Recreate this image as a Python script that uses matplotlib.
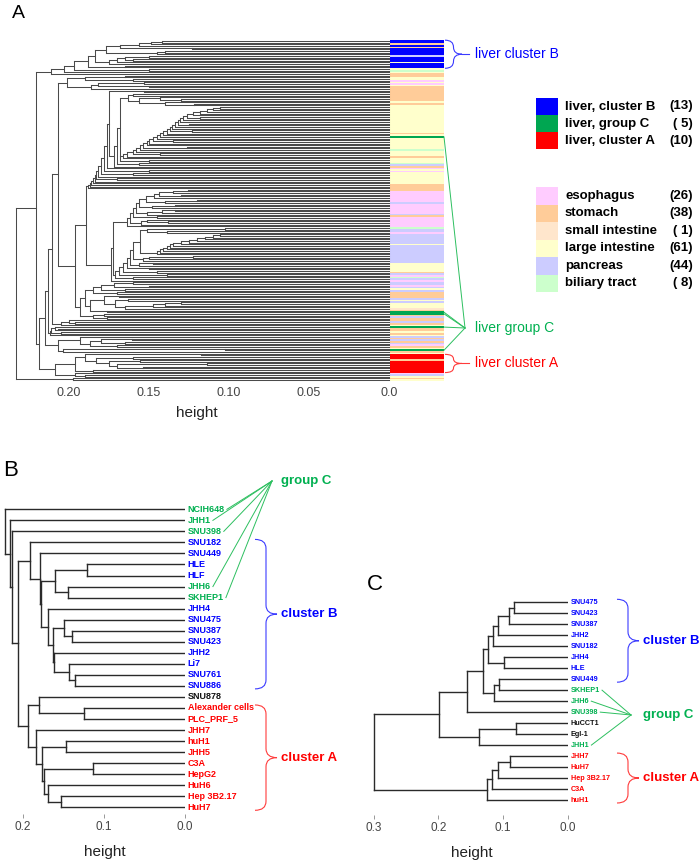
import numpy as np
import matplotlib
matplotlib.use('Agg')
import matplotlib.pyplot as plt
from matplotlib.collections import LineCollection
from matplotlib.path import Path
from matplotlib.patches import PathPatch, Rectangle

plt.rcParams['font.family'] = ['Liberation Sans', 'DejaVu Sans']

W, H = 700, 864

# ---------------- panel A: 206 cell lines ----------------
# merge height between neighbouring leaves (leaf i / leaf i+1), top to bottom
merge_heights_a = [
    0.142, 0.149, 0.156, 0.168, 0.123, 0.177, 0.140, 0.145, 0.184, 0.150,
    0.165, 0.160, 0.170, 0.175, 0.188, 0.165, 0.197, 0.150, 0.203, 0.211,
    0.2206, 0.165, 0.190, 0.160, 0.2015, 0.153, 0.182, 0.150, 0.186, 0.2067,
    0.153, 0.175, 0.160, 0.163, 0.143, 0.130, 0.156, 0.140, 0.122, 0.168,
    0.1056, 0.1098, 0.114, 0.1181, 0.1223, 0.1265, 0.118, 0.129, 0.1306, 0.132,
    0.125, 0.134, 0.1355, 0.137, 0.123, 0.139, 0.141, 0.1431, 0.145, 0.1473,
    0.135, 0.150, 0.1515, 0.1535, 0.1265, 0.1556, 0.158, 0.160, 0.143, 0.164,
    0.166, 0.168, 0.150, 0.170, 0.156, 0.172, 0.176, 0.178, 0.150, 0.180,
    0.160, 0.182, 0.183, 0.170, 0.184, 0.185, 0.186, 0.187, 0.188, 0.1894,
    0.1255, 0.135, 0.144, 0.130, 0.147, 0.152, 0.120, 0.140, 0.156, 0.134,
    0.148, 0.158, 0.1335, 0.142, 0.151, 0.160, 0.145, 0.162, 0.1515, 0.138,
    0.155, 0.164, 0.1722, 0.1025, 0.1515, 0.139, 0.1556, 0.1056, 0.110, 0.115,
    0.120, 0.125, 0.130, 0.1348, 0.137, 0.139, 0.141, 0.1431, 0.145, 0.160,
    0.1223, 0.150, 0.154, 0.162, 0.1473, 0.156, 0.164, 0.150, 0.166, 0.145,
    0.169, 0.139, 0.171, 0.160, 0.174, 0.1963, 0.160, 0.172, 0.150, 0.180,
    0.165, 0.185, 0.170, 0.190, 0.169, 0.178, 0.1629, 0.171, 0.130, 0.140,
    0.1473, 0.165, 0.187, 0.176, 0.193, 0.178, 0.185, 0.1765, 0.2104, 0.200,
    0.196, 0.205, 0.2129, 0.209, 0.207, 0.211, 0.205, 0.212, 0.215, 0.1931,
    0.1604, 0.180, 0.165, 0.187, 0.170, 0.2067, 0.1025, 0.204, 0.2185, 0.1177,
    0.190, 0.160, 0.183, 0.1556, 0.175, 0.114, 0.170, 0.1535, 0.1963, 0.185,
    0.2088, 0.196, 0.190, 0.2331, 0.1975,
]

# tissue of each leaf: B/C/A liver groups, E esophagus, S stomach,
# I small intestine, L large intestine, P pancreas, G biliary tract
strip_a = ''.join([
    'BBSBSBBBBPBBBLBBBL', 'GLSSLLELELS', 'SSSSSSSS', 'LS' + 'L' * 17 + 'SL',
    'C', 'LLLLLLL', 'G', 'LLLSLLLG', 'PSELE', 'LLLLLLL', 'SSSS',
    'EEEEEEEPEEEEEE', 'PSE', 'EEEEE', 'G', 'PPE', 'PPPPPPLPPPPPPPPPPP',
    'LLLLL', 'S', 'PEGPEPPEPLP', 'SSSS', 'PLP', 'LLL', 'IS', 'CC', 'SPSSPSL',
    'C', 'SSLSL', 'PSPSPESL', 'C', 'SL', 'AAASAAAAAAA', 'EPLSL',
])

tissue_color = {'B': '#0000ff', 'C': '#00a651', 'A': '#ff0000',
                'E': '#ffccff', 'S': '#ffcc99', 'I': '#ffe6cc',
                'L': '#ffffcc', 'P': '#ccccff', 'G': '#ccffcc'}

legend_liver = ['liver, cluster B', 'liver, group C', 'liver, cluster A']
legend_liver_n = ['(13)', '( 5)', '(10)']
legend_liver_code = ['B', 'C', 'A']
legend_tissue = ['esophagus', 'stomach', 'small intestine',
                 'large intestine', 'pancreas', 'biliary tract']
legend_tissue_n = ['(26)', '(38)', '( 1)', '(61)', '(44)', '( 8)']
legend_tissue_code = ['E', 'S', 'I', 'L', 'P', 'G']

# ---------------- panel B ----------------
leaves_b = ['NCIH648', 'JHH1', 'SNU398', 'SNU182', 'SNU449', 'HLE', 'HLF',
            'JHH6', 'SKHEP1', 'JHH4', 'SNU475', 'SNU387', 'SNU423', 'JHH2',
            'Li7', 'SNU761', 'SNU886', 'SNU878', 'Alexander cells',
            'PLC_PRF_5', 'JHH7', 'huH1', 'JHH5', 'C3A', 'HepG2', 'HuH6',
            'Hep 3B2.17', 'HuH7']
group_b = ['C', 'C', 'C', 'B', 'B', 'B', 'B', 'C', 'C', 'B', 'B', 'B', 'B',
           'B', 'B', 'B', 'B', 'N', 'A', 'A', 'A', 'A', 'A', 'A', 'A', 'A',
           'A', 'A']
merge_heights_b = [0.222, 0.216, 0.2132, 0.1914, 0.179, 0.1206, 0.1605,
                   0.1448, 0.1778, 0.1695, 0.150, 0.140, 0.1634, 0.1620,
                   0.1428, 0.136, 0.2058, 0.1798, 0.1243, 0.1934, 0.1843,
                   0.1473, 0.177, 0.114, 0.174, 0.1687, 0.1535]

# ---------------- panel C ----------------
leaves_c = ['SNU475', 'SNU423', 'SNU387', 'JHH2', 'SNU182', 'JHH4', 'HLE',
            'SNU449', 'SKHEP1', 'JHH6', 'SNU398', 'HuCCT1', 'Egl-1', 'JHH1',
            'JHH7', 'HuH7', 'Hep 3B2.17', 'C3A', 'huH1']
group_c = ['B', 'B', 'B', 'B', 'B', 'B', 'B', 'B', 'C', 'C', 'C', 'N', 'N',
           'C', 'A', 'A', 'A', 'A', 'A']
merge_heights_c = [0.0833, 0.0905, 0.1075, 0.1152, 0.123, 0.0988, 0.1307,
                   0.106, 0.1142, 0.1554, 0.1986, 0.0802, 0.1369, 0.2994,
                   0.0895, 0.1075, 0.1178, 0.1245]

label_color = {'B': '#0000ff', 'C': '#00b050', 'A': '#ff0000', 'N': '#111111'}
brace_color = {'B': '#3b3bff', 'C': '#2cbf5f', 'A': '#ff3b3b'}


def dendro(ax, gaps, lw, color):
    segs = []

    def node(lo, hi):
        if lo == hi:
            return lo, 0.0
        k = lo + int(np.argmax(gaps[lo:hi]))
        h = gaps[k]
        pl, hl = node(lo, k)
        pr, hr = node(k + 1, hi)
        segs.append([(hl, pl), (h, pl)])
        segs.append([(hr, pr), (h, pr)])
        segs.append([(h, pl), (h, pr)])
        return (pl + pr) / 2, h

    node(0, len(gaps))
    ax.add_collection(LineCollection(segs, colors=color, linewidths=lw,
                                     capstyle='projecting'))


fig = plt.figure(figsize=(7, 8.64), dpi=100)


def px_axes(x0, y0, x1, y1):
    return fig.add_axes([x0 / W, 1 - y1 / H, (x1 - x0) / W, (y1 - y0) / H])


def clean(ax):
    for s in ax.spines.values():
        s.set_visible(False)
    ax.set_yticks([])
    ax.patch.set_alpha(0)


# panel A axes: leaf 0 at y=41, last leaf at y=380, height 0 at x=389
axA = px_axes(10, 38, 444, 383)
pitch_a = 339 / (len(merge_heights_a))
axA.set_xlim((389 - 10) / 1600, (389 - 444) / 1600)
axA.set_ylim((383 - 41) / pitch_a, (38 - 41) / pitch_a)
dendro(axA, merge_heights_a, 0.75, '#4a4a4a')
axA.barh(range(len(strip_a)), -0.0338, left=-0.0008, height=1.0,
         color=[tissue_color[c] for c in strip_a], edgecolor='none', linewidth=0)
axA.set_xticks([0.2, 0.15, 0.1, 0.05, 0.0])
axA.set_xticklabels(['0.20', '0.15', '0.10', '0.05', '0.0'])
axA.tick_params(axis='x', length=0, pad=3, labelsize=9, labelcolor='#444444')
clean(axA)

# panel B axes
axB = px_axes(3, 503, 185, 814)
pitch_b = (807.3 - 509.3) / (len(leaves_b) - 1)
axB.set_xlim((185 - 3) / 810, 0)
axB.set_ylim((814 - 509.3) / pitch_b, (503 - 509.3) / pitch_b)
dendro(axB, merge_heights_b, 1.0, '#2a2a2a')
axB.set_xticks([0.2, 0.1, 0.0])
axB.tick_params(axis='x', length=3, width=0.6, color='#888888', pad=2,
                labelsize=8.5, labelcolor='#444444')
clean(axB)

# panel C axes
axC = px_axes(370, 596, 568, 815)
pitch_c = (800 - 602.3) / (len(leaves_c) - 1)
axC.set_xlim((568 - 370) / 648, 0)
axC.set_ylim((815 - 602.3) / pitch_c, (596 - 602.3) / pitch_c)
dendro(axC, merge_heights_c, 1.0, '#2a2a2a')
axC.set_xticks([0.3, 0.2, 0.1, 0.0])
axC.tick_params(axis='x', length=3, width=0.6, color='#888888', pad=2,
                labelsize=8.5, labelcolor='#444444')
clean(axC)


def leaf_labels(ax, names, groups, size):
    out = []
    for i, (name, g) in enumerate(zip(names, groups)):
        out.append(ax.annotate(name, (0, i), xytext=(2, 0), textcoords='offset points',
                               va='center', ha='left', fontsize=size, fontweight='bold',
                               color=label_color[g], annotation_clip=False))
    return out


texts_b = leaf_labels(axB, leaves_b, group_b, 6.5)
texts_c = leaf_labels(axC, leaves_c, group_c, 5.2)

# overlay in pixel coordinates (origin top-left)
ov = fig.add_axes([0, 0, 1, 1], zorder=10)
ov.set_xlim(0, W)
ov.set_ylim(H, 0)
ov.axis('off')
ov.patch.set_alpha(0)


def leaf_px(ax, i):
    x, y = ax.transData.transform((0, i))
    return x, H - y


def brace(y0, y1, x0, w, color, tail=0):
    ym = (y0 + y1) / 2
    xv = x0 + w / 2
    r = min(9, (y1 - y0) / 4)
    verts = [(x0, y0), (xv, y0), (xv, y0 + r), (xv, ym - r), (xv, ym), (x0 + w, ym),
             (xv, ym), (xv, ym + r), (xv, y1 - r), (xv, y1), (x0, y1)]
    codes = [Path.MOVETO, Path.CURVE3, Path.CURVE3, Path.LINETO, Path.CURVE3,
             Path.CURVE3, Path.CURVE3, Path.CURVE3, Path.LINETO, Path.CURVE3,
             Path.CURVE3]
    ov.add_patch(PathPatch(Path(verts, codes), fill=False, ec=color, lw=0.8))
    if tail:
        ov.plot([x0 + w, x0 + w + tail], [ym, ym], color=color, lw=0.8)
    return ym


# panel letters and axis titles
ov.text(12, 13, 'A', fontsize=14, ha='left', va='center')
ov.text(3, 471, 'B', fontsize=16, ha='left', va='center')
ov.text(367, 584, 'C', fontsize=16, ha='left', va='center')
ov.text(197, 413, 'height', fontsize=11, ha='center', va='center', color='#222222')
ov.text(105, 852, 'height', fontsize=11, ha='center', va='center', color='#222222')
ov.text(472, 853, 'height', fontsize=11, ha='center', va='center', color='#222222')

# panel A legend
for k, (lab, n, code) in enumerate(zip(legend_liver, legend_liver_n, legend_liver_code)):
    y = 98 + 17.2 * k
    ov.add_patch(Rectangle((536, y), 22, 17, color=tissue_color[code], lw=0))
    ov.text(565, y + 8.5, lab, fontsize=9.5, fontweight='bold', va='center')
    ov.text(693, y + 8.5, n, fontsize=9.5, fontweight='bold', va='center', ha='right')
for k, (lab, n, code) in enumerate(zip(legend_tissue, legend_tissue_n, legend_tissue_code)):
    y = 187 + 17.5 * k
    ov.add_patch(Rectangle((536, y), 22, 17.5, color=tissue_color[code], lw=0))
    ov.text(565, y + 8.7, lab, fontsize=9.5, fontweight='bold', va='center')
    ov.text(693, y + 8.7, n, fontsize=9.5, fontweight='bold', va='center', ha='right')

# panel A annotations
idx_b = [i for i, c in enumerate(strip_a) if c == 'B']
idx_a = [i for i, c in enumerate(strip_a) if c == 'A']
idx_c = [i for i, c in enumerate(strip_a) if c == 'C']
yb0 = leaf_px(axA, idx_b[0] - 0.5)[1]
yb1 = leaf_px(axA, idx_b[-1] + 0.5)[1]
ym = brace(yb0, yb1, 445, 17, brace_color['B'], tail=7)
ov.text(475, ym, 'liver cluster B', color='#0000ff', fontsize=10, va='center')
ya0 = leaf_px(axA, idx_a[0] - 0.5)[1]
ya1 = leaf_px(axA, idx_a[-1] + 0.5)[1]
ym = brace(ya0, ya1, 445, 17, brace_color['A'], tail=7)
ov.text(475, ym, 'liver cluster A', color='#ff0000', fontsize=10, va='center')
for i in idx_c:
    y = leaf_px(axA, i)[1]
    ov.plot([444, 465], [y, 328], color=brace_color['C'], lw=0.7)
ov.text(475, 328, 'liver group C', color='#00b050', fontsize=10, va='center')


# panel B / C braces
def cluster_brace(ax, groups, code, x0, label):
    ids = [i for i, g in enumerate(groups) if g == code]
    y0 = leaf_px(ax, ids[0])[1] - 3
    y1 = leaf_px(ax, ids[-1])[1] + 3
    ym = brace(y0, y1, x0, 22, brace_color[code])
    ov.text(x0 + 26, ym, label, color=label_color[code], fontsize=9.5,
            fontweight='bold', va='center')


cluster_brace(axB, group_b, 'B', 255, 'cluster B')
cluster_brace(axB, group_b, 'A', 255, 'cluster A')
cluster_brace(axC, group_c, 'B', 617, 'cluster B')
cluster_brace(axC, group_c, 'A', 617, 'cluster A')
ov.text(281, 481, 'group C', color=label_color['C'], fontsize=9.5,
        fontweight='bold', va='center')
ov.text(643, 715, 'group C', color=label_color['C'], fontsize=9.5,
        fontweight='bold', va='center')

fig.canvas.draw()
for texts, groups, tip in ((texts_b, group_b, (272, 481)), (texts_c, group_c, (631, 715))):
    for t, g in zip(texts, groups):
        if g != 'C':
            continue
        bb = t.get_window_extent()
        ov.plot([bb.x1 + 2, tip[0]], [H - (bb.y0 + bb.y1) / 2, tip[1]],
                color=brace_color['C'], lw=0.7)

fig.savefig('out.png', dpi=100)
